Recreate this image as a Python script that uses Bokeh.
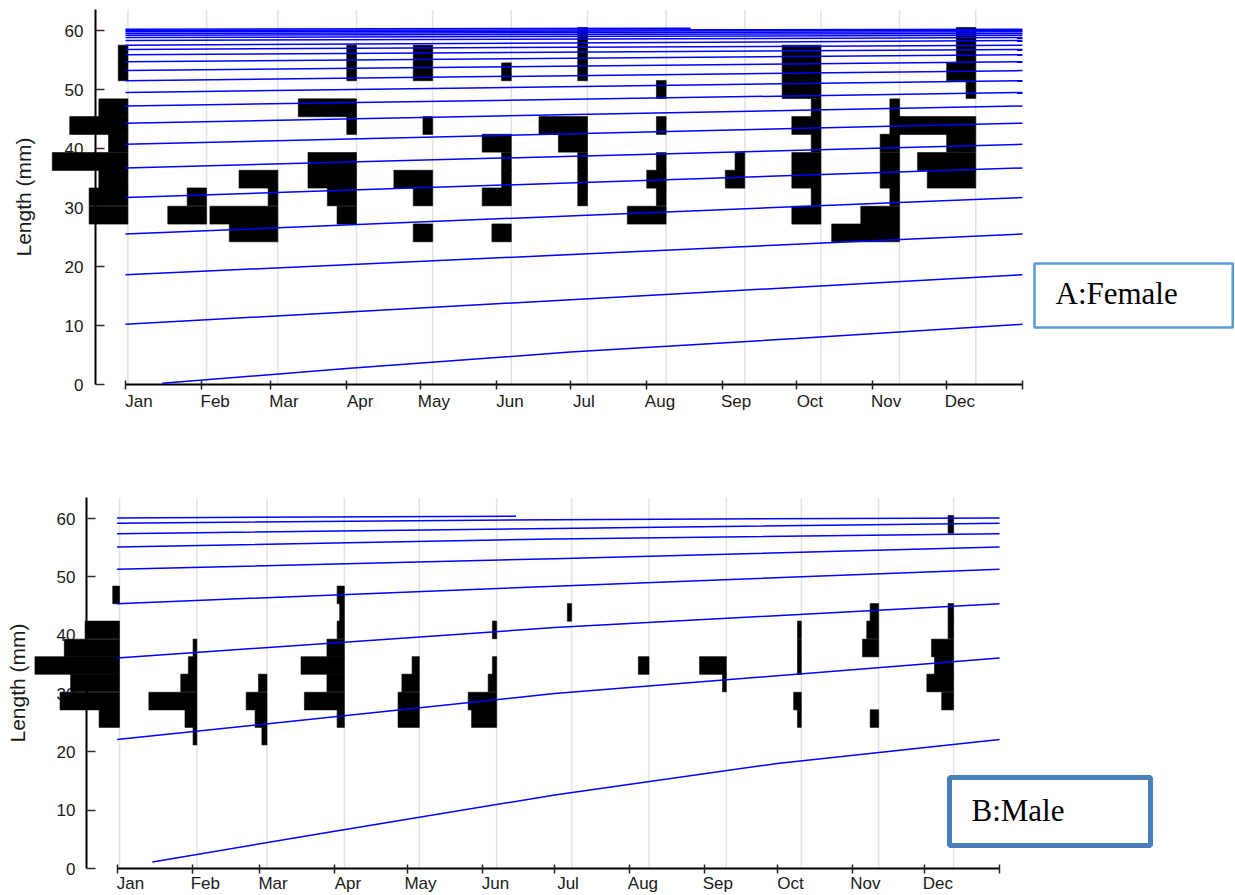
from bokeh.plotting import figure
from bokeh.models import Range1d, FixedTicker, LinearAxis, Span, Label
from bokeh.embed import file_html
from bokeh.resources import INLINE

# ---------------- data ----------------
MONTHS = ["Jan", "Feb", "Mar", "Apr", "May", "Jun", "Jul", "Aug", "Sep", "Oct", "Nov", "Dec"]
MONTH_START = [0, 31, 59, 90, 120, 151, 181, 212, 243, 273, 304, 334]   # day offset from 1 Jan
YEAR_END = 365
SAMPLE_DAY = [1, 33, 62, 94, 125, 157, 188, 220, 252, 283, 315, 346]   # monthly sampling dates

LENGTH_MID = [22.7, 25.7, 28.7, 31.8, 34.8, 37.8, 40.9, 43.9, 46.9, 50.0, 53.0, 56.0, 59.0]  # mm
CLASS_WIDTH = 3.03
Y_TICKS = [0, 10, 20, 30, 40, 50, 60]

# relative frequencies per sample (rows) and length class (columns)
FEMALE_FREQ = [
    [0, 0, 4, 4, 3, 7.8, 2, 6, 3, 0, 1, 1, 0],   # Jan
    [0, 0, 4, 2, 0, 0, 0, 0, 0, 0, 0, 0, 0],     # Feb
    [0, 5, 7, 1, 4, 0, 0, 0, 0, 0, 0, 0, 0],     # Mar
    [0, 0, 2, 3, 5, 5, 0, 1, 6, 0, 1, 1, 0],     # Apr
    [0, 2, 0, 2, 4, 0, 0, 1, 0, 0, 2, 2, 0],     # May
    [0, 2, 0, 3, 1, 1, 3, 0, 0, 0, 1, 0, 0],     # Jun
    [0, 0, 0, 1, 1, 1, 3, 5, 0, 0, 1, 1, 1],     # Jul
    [0, 0, 4, 1, 2, 1, 0, 1, 0, 1, 0, 0, 0],     # Aug
    [0, 0, 0, 0, 2, 1, 0, 0, 0, 0, 0, 0, 0],     # Sep
    [0, 0, 3, 1, 3, 3, 1, 3, 1, 4, 4, 4, 0],     # Oct
    [0, 7, 4, 1, 2, 2, 2, 1, 1, 0, 0, 0, 0],     # Nov
    [0, 0, 0, 0, 5, 6, 3, 8, 0, 1, 3, 2, 2],     # Dec
]
MALE_FREQ = [
    [0, 4.8, 14.0, 11.5, 19.9, 13.0, 8.1, 0, 1.6, 0, 0, 0, 0],   # Jan
    [0.9, 2.8, 11.3, 3.8, 2.0, 0.9, 0, 0, 0, 0, 0, 0, 0],        # Feb
    [1.2, 2.8, 4.9, 2.0, 0, 0, 0, 0, 0, 0, 0, 0, 0],             # Mar
    [0, 1.7, 9.4, 4.1, 10.2, 4.1, 1.7, 1.1, 1.7, 0, 0, 0, 0],    # Apr
    [0, 5.0, 5.0, 4.1, 1.7, 0, 0, 0, 0, 0, 0, 0, 0],             # May
    [0, 5.9, 6.7, 2.0, 1.0, 0, 1.0, 0, 0, 0, 0, 0, 0],           # Jun
    [0, 0, 0, 0, 0, 0, 0, 1.0, 0, 0, 0, 0, 0],                   # Jul
    [0, 0, 0, 0, 2.5, 0, 0, 0, 0, 0, 0, 0, 0],                   # Aug
    [0, 0, 0, 0.9, 6.3, 0, 0, 0, 0, 0, 0, 0, 0],                 # Sep
    [0, 0.9, 1.8, 0, 0.9, 0.9, 0.9, 0, 0, 0, 0, 0, 0],           # Oct
    [0, 2.0, 0, 0, 0, 3.8, 2.8, 2.0, 0, 0, 0, 0, 0],             # Nov
    [0, 0, 2.8, 6.3, 4.5, 5.2, 1.3, 1.3, 0, 0, 0, 0, 1.3],       # Dec
]

# growth curves (length, mm)
FEMALE_JAN_LEN = [10.2, 18.6, 25.5, 31.7, 36.7, 40.7, 44.3, 47.2, 49.5, 51.5, 53.2,
                  54.7, 55.9, 56.8, 57.5, 58.3, 58.8, 59.2, 59.5, 59.8, 60.0, 60.2]
FEMALE_YOUNG_DAY = [15, 90, 181, 273, 365]
FEMALE_YOUNG_LEN = [0.2, 2.7, 5.5, 7.8, 10.2]
FEMALE_OLDEST_END = (230, 60.4)

MALE_JAN_LEN = [22.1, 36.1, 45.4, 51.3, 55.1, 57.4, 59.2, 60.1]
MALE_JUL_LEN = [30.0, 41.3, 48.4, 53.1, 56.5, 58.3, 59.8]
MALE_YOUNG_DAY = [14.6, 90, 181, 273, 365]
MALE_YOUNG_LEN = [1.1, 6.4, 12.6, 18.0, 22.1]
MALE_OLDEST_END = (165, 60.4)

# ---------------- style ----------------
SANS = "Liberation Sans"
SERIF = "Liberation Serif"


def female_curves():
    xs, ys = [FEMALE_YOUNG_DAY], [FEMALE_YOUNG_LEN]
    L = FEMALE_JAN_LEN
    for a, b in zip(L[:-1], L[1:]):
        xs.append([0, YEAR_END])
        ys.append([a, b])
    xs.append([0, FEMALE_OLDEST_END[0]])
    ys.append([L[-1], FEMALE_OLDEST_END[1]])
    return xs, ys


def male_curves():
    xs, ys = [MALE_YOUNG_DAY], [MALE_YOUNG_LEN]
    L = MALE_JAN_LEN
    for a, m, b in zip(L[:-1], MALE_JUL_LEN, L[1:]):
        xs.append([0, MONTH_START[6], YEAR_END])
        ys.append([a, m, b])
    xs.append([0, MALE_OLDEST_END[0]])
    ys.append([L[-1], MALE_OLDEST_END[1]])
    return xs, ys


def make_panel(freq, days_per_unit, curves, height, borders, x_lim, y_end,
               tick_standoff, label_standoff, month_standoff, box):
    bl, br, bt, bb = borders
    p = figure(width=1235, height=height, output_backend="svg", toolbar_location=None,
               x_range=Range1d(*x_lim), y_range=Range1d(0, y_end),
               min_border_left=bl, min_border_right=br, min_border_top=bt, min_border_bottom=bb)
    p.grid.visible = False
    p.outline_line_color = None
    p.background_fill_color = "white"
    p.border_fill_color = "white"

    for d in SAMPLE_DAY:
        p.add_layout(Span(location=d, dimension="height", line_color="#e2e2ea",
                          line_width=1.5, level="underlay"))

    left, right, bottom, top = [], [], [], []
    for d, row in zip(SAMPLE_DAY, freq):
        for mid, f in zip(LENGTH_MID, row):
            if f > 0:
                left.append(d - f * days_per_unit)
                right.append(d)
                bottom.append(mid - CLASS_WIDTH / 2)
                top.append(mid + CLASS_WIDTH / 2)
    p.quad(left=left, right=right, bottom=bottom, top=top, fill_color="black",
           line_color="black", line_width=0.6, level="overlay")

    xs, ys = curves
    p.multi_line(xs=xs, ys=ys, line_color="#0000ff", line_width=1.5, level="overlay")

    # x axis: tick marks at month starts
    xa = p.xaxis[0]
    xa.ticker = FixedTicker(ticks=MONTH_START + [YEAR_END], minor_ticks=[])
    xa.bounds = (0, YEAR_END)
    xa.axis_line_width = 2
    xa.axis_line_color = "black"
    xa.major_tick_in = 4
    xa.major_tick_out = 5
    xa.major_tick_line_width = 1.5
    xa.major_tick_line_color = "#222222"
    xa.major_label_text_font_size = "1px"
    xa.major_label_text_color = None
    xa.major_label_standoff = 0

    # month names set just right of the ticks
    lab_pos = [m + 5.5 for m in MONTH_START]
    xb = LinearAxis(ticker=FixedTicker(ticks=lab_pos, minor_ticks=[]),
                    major_label_overrides={t: n for t, n in zip(lab_pos, MONTHS)},
                    axis_line_color=None, major_tick_line_color=None,
                    minor_tick_line_color=None, major_label_standoff=month_standoff,
                    major_label_text_font=SANS, major_label_text_font_size="17px",
                    major_label_text_color="#1a1a1a")
    p.add_layout(xb, "below")

    ya = p.yaxis[0]
    ya.ticker = FixedTicker(ticks=Y_TICKS, minor_ticks=[])
    ya.axis_line_width = 2
    ya.axis_line_color = "black"
    ya.major_tick_in = 9
    ya.major_tick_out = 0
    ya.major_tick_line_width = 1.5
    ya.major_tick_line_color = "#3a2a2a"
    ya.major_label_standoff = tick_standoff
    ya.major_label_text_font = SANS
    ya.major_label_text_font_size = "17px"
    ya.major_label_text_color = "#1a1a1a"
    ya.axis_label = "Length (mm)"
    ya.axis_label_text_font = SANS
    ya.axis_label_text_font_size = "21px"
    ya.axis_label_text_font_style = "normal"
    ya.axis_label_text_color = "#1a1a1a"
    ya.axis_label_standoff = label_standoff

    text, bx, by, pad, color, lw = box
    p.add_layout(Label(x=bx, y=by, x_units="screen", y_units="screen", text=text,
                       text_font=SERIF, text_font_size="31px", text_color="black",
                       anchor="bottom_left", padding=pad, level="overlay",
                       border_line_color=color, border_line_width=lw,
                       background_fill_color="white"))
    return p


# frames run to the right edge of the page so the caption boxes are not clipped;
# the x axis line itself stops at the end of the year (bounds)
top = make_panel(FEMALE_FREQ, 3.947, female_curves(), 450, (95, 0, 9, 66), (-12.2, 451.7), 63.56,
                 12, 27, -4,
                 ("A:Female", 939, 57, dict(left=21, right=55, top=12, bottom=17), "#5B9BD5", 2.5))
bot = make_panel(MALE_FREQ, 1.758, male_curves(), 445, (86, 0, 47, 27), (-12.66, 462.6), 63.6,
                 11, 25, -6,
                 ("B:Male", 863, 23, dict(left=22, right=86, top=15, bottom=18), "#4A7EBB", 5))

open("out.html", "w").write(file_html([top, bot], INLINE))
